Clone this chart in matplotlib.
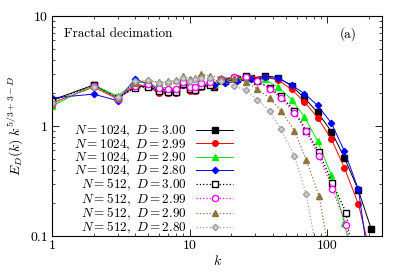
import numpy as np
import matplotlib
matplotlib.use("Agg")
import matplotlib.pyplot as plt
from matplotlib.ticker import NullFormatter, LogLocator

plt.rcParams['font.family'] = 'serif'
plt.rcParams['font.serif'] = ['cmr10', 'DejaVu Serif']
plt.rcParams['mathtext.fontset'] = 'cm'
plt.rcParams['axes.unicode_minus'] = False

# wavenumber bins
k1024 = [1, 2, 3, 4, 5, 6, 7, 8, 9, 10, 11, 12,
         15, 18, 22, 28, 35, 44, 55, 68, 85, 107, 133, 168, 208]
k512 = [1, 2, 3, 4, 5, 6, 7, 8, 9, 10, 11, 12,
        14, 17, 21, 25.5, 31, 38, 46, 57.6, 70, 87, 108.6, 137, 170]

# N = 1024
e1024_300 = [1.72, 2.36, 1.80, 2.26, 2.31, 2.07, 2.02, 2.02, 2.46, 2.16, 2.12, 2.31,
             2.26, 2.55, 2.65, 2.71, 2.86, 2.76, 2.31, 1.80, 1.33, 0.89, 0.515, 0.26, 0.116]
e1024_299 = [1.62, 2.26, 1.76, 2.41, 2.26, 1.98, 1.98, 1.98, 2.36, 2.07, 2.07, 2.26,
             2.31, 2.55, 2.71, 2.76, 2.81, 2.61, 2.15, 1.66, 1.19, 0.76, 0.415, 0.195, 0.065]
e1024_290 = [1.52, 2.36, 1.87, 2.51, 2.46, 2.21, 2.26, 2.16, 2.55, 2.31, 2.21, 2.41,
             2.41, 2.6, 2.71, 2.71, 2.65, 2.26, 1.74, 1.21, 0.73, 0.355, 0.13, 0.035, 0.007]
e1024_280 = [1.80, 1.95, 1.70, 2.67, 2.41, 2.12, 2.16, 2.07, 2.36, 2.21, 2.16, 2.36,
             2.36, 2.46, 2.55, 2.65, 2.77, 2.71, 2.36, 1.97, 1.54, 1.06, 0.59, 0.265, 0.04]

# N = 512
e512_300 = [1.68, 2.36, 1.80, 2.21, 2.26, 2.07, 2.02, 2.02, 2.41, 2.16, 2.12, 2.31,
            2.36, 2.6, 2.76, 2.84, 2.55, 2.21, 1.87, 1.38, 0.91, 0.575, 0.305, 0.162, 0.024]
e512_299 = [1.60, 2.31, 1.76, 2.31, 2.41, 2.21, 2.16, 2.16, 2.51, 2.26, 2.26, 2.46,
            2.51, 2.65, 2.81, 2.81, 2.58, 2.19, 1.80, 1.32, 0.90, 0.535, 0.27, 0.126, 0.024]
e512_290 = [1.58, 2.31, 1.78, 2.46, 2.60, 2.50, 2.55, 2.60, 2.86, 2.65, 2.76, 2.96,
            2.86, 2.76, 2.71, 2.52, 2.16, 1.80, 1.38, 0.91, 0.495, 0.232, 0.048, 0.008, 0.0015]
e512_280 = [1.62, 2.26, 1.82, 2.55, 2.60, 2.46, 2.50, 2.55, 2.71, 2.55, 2.65, 2.76,
            2.71, 2.55, 2.31, 2.12, 1.74, 1.38, 0.93, 0.535, 0.24, 0.056, 0.009, 0.0015, 0.0004]

fig = plt.figure(figsize=(4.07, 2.72), dpi=100)
ax = fig.add_axes([0.128, 0.1324, 0.811, 0.8086])

brown = '#8c7540'
grey = '#a0a0a0'

ax.plot(k1024, e1024_300, '-', color='black', marker='s', ms=4, lw=0.7,
        label=r'$N = 1024,\ D = 3.00$')
ax.plot(k1024, e1024_299, '-', color='red', marker='o', ms=4, lw=0.7,
        label=r'$N = 1024,\ D = 2.99$')
ax.plot(k1024, e1024_290, '-', color='#00ee00', marker='^', ms=4, lw=0.7,
        label=r'$N = 1024,\ D = 2.90$')
ax.plot(k1024, e1024_280, '-', color='blue', marker='D', ms=3.2, lw=0.7,
        label=r'$N = 1024,\ D = 2.80$')
ax.plot(k512, e512_300, ':', color='black', marker='s', ms=4.5, lw=0.9,
        mfc='white', label=r'$N = 512,\ D = 3.00$')
ax.plot(k512, e512_299, ':', color='magenta', marker='o', ms=4.5, lw=0.9,
        mfc='white', label=r'$N = 512,\ D = 2.99$')
ax.plot(k512, e512_290, ':', color=brown, marker='^', ms=4.5, lw=0.9,
        label=r'$N = 512,\ D = 2.90$')
ax.plot(k512, e512_280, ':', color=grey, marker='D', ms=3.2, lw=0.9,
        mfc='#d0d0d0', label=r'$N = 512,\ D = 2.80$')

ax.set_xscale('log')
ax.set_yscale('log')
ax.set_xlim(1, 250)
ax.set_ylim(0.1, 10)

ax.set_xticks([1, 10, 100], ['1', '10', '100'])
ax.set_yticks([0.1, 1, 10], ['0.1', '1', '10'])
ax.xaxis.set_minor_locator(LogLocator(base=10, subs=np.arange(2, 10)))
ax.yaxis.set_minor_locator(LogLocator(base=10, subs=np.arange(2, 10)))
ax.xaxis.set_minor_formatter(NullFormatter())
ax.yaxis.set_minor_formatter(NullFormatter())
ax.tick_params(which='both', direction='in', top=True, right=True, labelsize=10)
ax.tick_params(which='major', length=5, width=0.6, pad=3)
ax.tick_params(which='minor', length=2.5, width=0.5)
for s in ax.spines.values():
    s.set_linewidth(0.8)

ax.set_xlabel(r'$k$', fontsize=10, labelpad=1)
ax.set_ylabel(r'$E_D(k)\;k^{5/3+3-D}$', fontsize=10, labelpad=4)

ax.text(0.035, 0.92, 'Fractal decimation', transform=ax.transAxes,
        fontsize=9.5, va='center', ha='left')
ax.text(0.87, 0.92, '(a)', transform=ax.transAxes,
        fontsize=9.5, va='center', ha='left')

# legend rows sit tighter than the mathtext boxes, as in the gnuplot original
ax.legend(loc='upper right', bbox_to_anchor=(233 / 407, 1 - 124 / 272),
          bbox_transform=fig.transFigure, frameon=False, markerfirst=False,
          fontsize=9.5, handlelength=2.8, handletextpad=0.7, labelspacing=-0.15,
          borderpad=0, borderaxespad=0)

fig.savefig('out.png', dpi=100)
